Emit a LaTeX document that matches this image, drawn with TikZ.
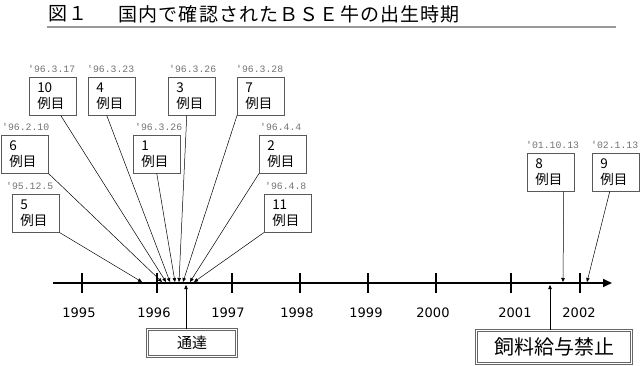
\documentclass[tikz,border=0pt]{standalone}
\usepackage{fontspec}
\setmainfont{Noto Sans CJK JP}
\newfontfamily\datefont{Liberation Mono}
\newfontfamily\yearfont{DejaVu Sans}
\usetikzlibrary{arrows.meta,positioning}
\tikzset{
	case/.style={draw=black!65,line width=0.5pt,fill=white,text width=31pt,inner xsep=8pt,inner ysep=3pt,
		minimum height=38pt,align=left,anchor=north west,font=\fontsize{13.5}{15.5}\selectfont},
	when/.style={inner sep=0pt,text=black!55,font=\datefont\fontsize{9.8}{11}\selectfont},
	yr/.style={font=\yearfont\fontsize{13}{14}\selectfont},
	order/.style={draw=black!60,double=white,double distance=1.6pt,line width=0.6pt,fill=white},
	ptr/.style={-{Triangle[length=4pt,width=3.5pt]},line width=0.5pt}
}
\begin{document}
\begin{tikzpicture}[x=1pt,y=-1pt]
	\useasboundingbox (0,0) rectangle (640,366);
	\node[anchor=west,font=\fontsize{19}{21}\selectfont\addfontfeature{LetterSpace=6}] (fig) at (45,14) {図１};
	\node[anchor=west,font=\fontsize{19}{21}\selectfont\addfontfeature{LetterSpace=6}] (title) at (115,14) {国内で確認されたＢＳＥ牛の出生時期};
	\draw[black!40,line width=2pt] (47,27) -- (616,27);
	% time axis
	\coordinate (start) at (53,283);
	\coordinate (end) at (612,283);
	\draw[line width=1.6pt,-{Triangle[length=9pt,width=8pt]}] (start) -- (end);
	\foreach \x in {82,157,232,300,368,436,511,580}
		\draw[line width=1.3pt] (\x,273) -- (\x,293);
	\foreach \x/\y in {79/1995,154/1996,228/1997,297/1998,366/1999,433/2000,515/2001,579/2002}
		\node[yr] (y\y) at (\x,313) {\y};
	% cases
	\node[case] (c10) at (29,77) {10\\例目};
	\node[case] (c4) at (88,77) {4\\例目};
	\node[case] (c3) at (168,77) {3\\例目};
	\node[case] (c7) at (237,77) {7\\例目};
	\node[case] (c6) at (1,135) {6\\例目};
	\node[case] (c1) at (133,135) {1\\例目};
	\node[case] (c2) at (259,135) {2\\例目};
	\node[case] (c5) at (12,194) {5\\例目};
	\node[case] (c11) at (264,194) {11\\例目};
	\node[case] (c8) at (527,153) {8\\例目};
	\node[case] (c9) at (592,153) {9\\例目};
	\node[when] (d10) [above right=4pt and -1pt of c10.north west] {'96.3.17};
	\node[when] (d4) [above right=4pt and -1pt of c4.north west] {'96.3.23};
	\node[when] (d3) [above right=4pt and 1pt of c3.north west] {'96.3.26};
	\node[when] (d7) [above right=4pt and -1pt of c7.north west] {'96.3.28};
	\node[when] (d6) [above right=4pt and 1pt of c6.north west] {'96.2.10};
	\node[when] (d1) [above right=4pt and 2pt of c1.north west] {'96.3.26};
	\node[when] (d2) [above right=4pt and 1pt of c2.north west] {'96.4.4};
	\node[when] (d5) [above right=4pt and -6pt of c5.north west] {'95.12.5};
	\node[when] (d11) [above right=4pt and 1pt of c11.north west] {'96.4.8};
	\node[when] (d8) [above right=4pt and -1pt of c8.north west] {'01.10.13};
	\node[when] (d9) [above right=4pt and -1pt of c9.north west] {'02.1.13};
	\coordinate (p5) at (142,282);
	\coordinate (p6) at (162,282);
	\coordinate (p10) at (166,282);
	\coordinate (p4) at (170,282);
	\coordinate (p1) at (175,282);
	\coordinate (p3) at (179,282);
	\coordinate (p7) at (183,282);
	\coordinate (p2) at (190,282);
	\coordinate (p11) at (194,282);
	\coordinate (p8) at (563,282);
	\coordinate (p9) at (587,282);
	\path[ptr]
	(c5.south east) edge (p5)
	(c6.south east) edge (p6)
	([xshift=8pt]c10.south) edge (p10)
	([xshift=-5pt]c4.south) edge (p4)
	(c1.south) edge (p1)
	([xshift=-5pt]c3.south) edge (p3)
	(c7.south west) edge (p7)
	(c2.south west) edge (p2)
	(c11.south west) edge (p11)
	([xshift=13pt]c8.south) edge (p8)
	([xshift=-6pt]c9.south) edge (p9);
	% measures
	\node[order,minimum width=89pt,minimum height=27pt,font=\fontsize{15}{17}\selectfont] (notice) at (192,343) {通達};
	\node[order,minimum width=155pt,minimum height=33pt,font=\fontsize{20}{22}\selectfont] (ban) at (554,347) {飼料給与禁止};
	\coordinate (q1) at (186,285);
	\coordinate (q2) at (550,285);
	\path[ptr]
	([xshift=-6pt]notice.north) edge (q1)
	([xshift=-4pt]ban.north) edge (q2);
\end{tikzpicture}
\end{document}
